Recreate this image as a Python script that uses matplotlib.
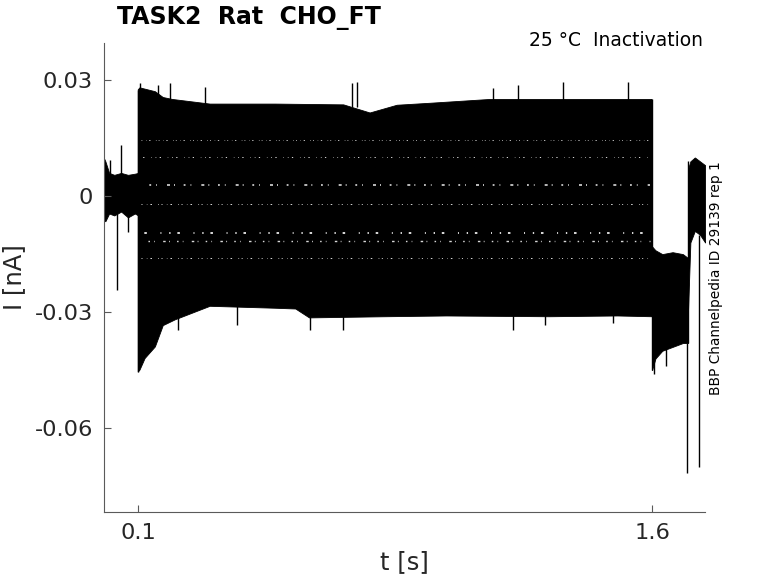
import numpy as np
import matplotlib
matplotlib.use("Agg")
import matplotlib.pyplot as plt

plt.rcParams['font.family'] = ['DejaVu Sans']

# ---- data (time in s, current in nA) ----
# holding segment before the pulse: envelope of all sweeps
base_t = [0.000, 0.004, 0.015, 0.030, 0.050, 0.070, 0.090, 0.100]
base_hi = [0.0098, 0.0090, 0.0060, 0.0055, 0.0060, 0.0055, 0.0058, 0.0060]
base_lo = [-0.0062, -0.0065, -0.0045, -0.0050, -0.0040, -0.0055, -0.0045, -0.0050]

# test pulse (0.1 - 1.6 s): upper and lower envelope of all sweeps
pulse_hi_t = [0.100, 0.105, 0.150, 0.173, 0.200, 0.310, 0.500, 0.700, 0.777, 0.856, 0.950, 1.127, 1.300, 1.500, 1.600]
pulse_hi = [0.0275, 0.0280, 0.0270, 0.0255, 0.0250, 0.0238, 0.0238, 0.0236, 0.0215, 0.0235, 0.0240, 0.0250, 0.0250, 0.0250, 0.0250]
pulse_lo_t = [0.100, 0.105, 0.120, 0.150, 0.173, 0.208, 0.310, 0.500, 0.560, 0.600, 0.820, 1.000, 1.300, 1.500, 1.600]
pulse_lo = [-0.0455, -0.0450, -0.0420, -0.0390, -0.0335, -0.0320, -0.0285, -0.0290, -0.0292, -0.0315, -0.0312, -0.0310, -0.0312, -0.0310, -0.0312]

# current levels between sweeps where the traces leave gaps during the pulse
gap_levels = [0.0145, 0.0100, 0.0030, -0.0020, -0.0095, -0.0115, -0.0160]
gap_weight = [0.6, 0.7, 1.2, 0.7, 1.4, 1.0, 0.7]

# tail after the pulse
tail1_t = [1.600, 1.610, 1.630, 1.660, 1.690, 1.705]
tail1_hi = [-0.0130, -0.0140, -0.0150, -0.0145, -0.0150, -0.0160]
tail1_lo = [-0.0450, -0.0420, -0.0400, -0.0390, -0.0380, -0.0380]
tail2_t = [1.705, 1.712, 1.725, 1.740, 1.755]
tail2_hi = [0.0070, 0.0090, 0.0100, 0.0090, 0.0080]
tail2_lo = [-0.0300, -0.0120, -0.0090, -0.0100, -0.0120]

# single excursions (time, from, to)
spike_t = [0.017, 0.039, 0.050, 0.071,
           0.106, 0.158, 0.193, 0.296, 0.725, 0.739, 1.136, 1.209, 1.340, 1.530,
           0.217, 0.389, 0.602, 0.698, 1.194, 1.288, 1.486,
           1.607, 1.640, 1.702, 1.737]
spike_from = [0.0050, -0.0040, 0.0050, -0.0040,
              0.0250, 0.0250, 0.0240, 0.0230, 0.0230, 0.0230, 0.0240, 0.0240, 0.0240, 0.0240,
              -0.0300, -0.0280, -0.0290, -0.0300, -0.0300, -0.0300, -0.0300,
              -0.0400, -0.0380, -0.0380, -0.0100]
spike_to = [0.0093, -0.0243, 0.0132, -0.0093,
            0.0292, 0.0287, 0.0292, 0.0282, 0.0292, 0.0295, 0.0280, 0.0287, 0.0295, 0.0295,
            -0.0347, -0.0334, -0.0347, -0.0347, -0.0347, -0.0334, -0.0328,
            -0.0460, -0.0440, -0.0716, -0.0700]

x_ticks = [0.1, 1.6]
x_ticklabels = ["0.1", "1.6"]
y_ticks = [-0.06, -0.03, 0.0, 0.03]
y_ticklabels = ["-0.06", "-0.03", "0", "0.03"]

# ---- figure ----
fig = plt.figure(figsize=(7.78, 5.83), dpi=100)
ax = fig.add_axes([104/778, 1-512/583, (705-104)/778, (512-43)/583])

col = 'black'
ax.fill_between(base_t, base_lo, base_hi, color=col, lw=0.6)
px = list(pulse_hi_t) + list(pulse_lo_t[::-1])
py = list(pulse_hi) + list(pulse_lo[::-1])
ax.fill(px, py, color=col, lw=0.6)

# speckled gaps between sweeps
dash_styles = [(0, (1.0, 4.5, 0.5, 3.2, 1.6, 6.5, 0.7, 2.6)),
               (2.5, (0.7, 3.5, 1.3, 7.0, 0.5, 4.0)),
               (5.0, (1.8, 2.4, 0.6, 5.2, 1.1, 3.0, 0.5, 6.0))]
for i, (lev, w) in enumerate(zip(gap_levels, gap_weight)):
    ax.plot([0.108, 1.595], [lev, lev], color='white', lw=w, alpha=0.85,
            linestyle=dash_styles[i % 3], solid_capstyle='butt')

ax.fill_between(tail1_t, tail1_lo, tail1_hi, color=col, lw=0.6)
ax.fill_between(tail2_t, tail2_lo, tail2_hi, color=col, lw=0.6)
ax.vlines(spike_t, spike_from, spike_to, color=col, lw=1.0)
# vertical edges at the steps
ax.vlines([0.1, 1.6, 1.705], [-0.0455, -0.045, -0.038], [0.0275, 0.025, 0.009], color=col, lw=1.0)

ax.set_xlim(0.0, 1.7547)
ax.set_ylim(-0.0817, 0.0396)
ax.set_xticks(x_ticks)
ax.set_xticklabels(x_ticklabels)
ax.set_yticks(y_ticks)
ax.set_yticklabels(y_ticklabels)

grey = '#5a5a5a'
txt = '#262626'
for s in ['top', 'right']:
    ax.spines[s].set_visible(False)
for s in ['left', 'bottom']:
    ax.spines[s].set_color(grey)
    ax.spines[s].set_linewidth(0.8)
ax.tick_params(direction='in', length=5, width=0.8, color=grey,
               labelsize=16.2, labelcolor=txt, pad=8)

ax.set_xlabel('t [s]', fontsize=17.5, color=txt, labelpad=5)
ax.set_ylabel('I [nA]', fontsize=17.5, color=txt, labelpad=6)

fig.text(117/778, 1-18/583, 'TASK2  Rat  CHO_FT', fontsize=17, fontweight='bold',
         ha='left', va='center', color='black')
fig.text(703/778, 1-41/583, '25 °C  Inactivation', fontsize=13.5,
         ha='right', va='center', color='black')
fig.text(716/778, 1-278/583, 'BBP Channelpedia ID 29139 rep 1', fontsize=9.9,
         rotation=90, ha='center', va='center', color='black')

fig.savefig('out.png', dpi=100)
